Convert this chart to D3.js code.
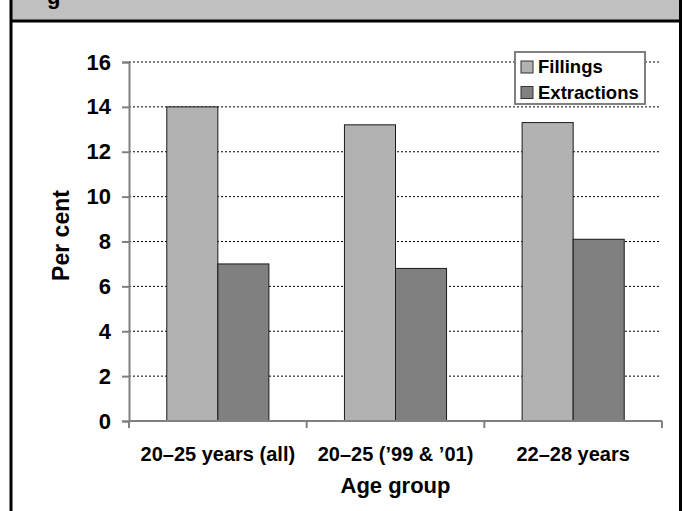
<!DOCTYPE html>
<html>
<head>
<meta charset="utf-8">
<script src="https://cdn.jsdelivr.net/npm/d3@7"></script>
<style>
  body { margin: 0; background: #fff; }
  svg { display: block; font-family: "Liberation Sans", Arial, sans-serif; font-weight: bold; }
</style>
</head>
<body>
<svg width="683" height="511"></svg>
<script>
const categories = ["20–25 years (all)", "20–25 ('99 & '01)", "22–28 years"];
const seriesNames = ["Fillings", "Extractions"];
const fillings = [14.0, 13.2, 13.3];
const extractions = [7.0, 6.8, 8.1];
const yTicks = [0, 2, 4, 6, 8, 10, 12, 14, 16];
const colors = ["#b2b2b2", "#808080"];

const svg = d3.select("svg");
const width = +svg.attr("width");
const height = +svg.attr("height");
const margin = { top: 62, right: 21, bottom: 90, left: 129 };
const innerWidth = width - margin.left - margin.right;
const innerHeight = height - margin.top - margin.bottom;

// frame + grey header band (title runs off the top, only a "g" tail shows)
svg.append("rect").attr("x", 11).attr("y", 0).attr("width", 670).attr("height", 21).attr("fill", "#c0c0c0");
svg.append("text").attr("x", 47).attr("y", 4).attr("font-size", 22).text("g");
svg.append("line").attr("x1", 11).attr("x2", 681).attr("y1", 21).attr("y2", 21)
  .attr("stroke", "#000").attr("stroke-width", 3);
svg.append("line").attr("x1", 11).attr("x2", 11).attr("y1", 0).attr("y2", height)
  .attr("stroke", "#000").attr("stroke-width", 3);
svg.append("line").attr("x1", 680.5).attr("x2", 680.5).attr("y1", 0).attr("y2", height)
  .attr("stroke", "#000").attr("stroke-width", 3);

const data = categories.map((c, i) => ({ cat: c, values: [fillings[i], extractions[i]] }));

const xScale = d3.scaleBand().domain(categories).range([0, innerWidth]).paddingInner(0).paddingOuter(0);
const xSub = d3.scaleBand().domain(seriesNames).range([0, xScale.bandwidth()]).paddingOuter(0.74).paddingInner(0);
const yScale = d3.scaleLinear().domain([0, 16]).range([innerHeight, 0]);

const g = svg.append("g").attr("transform", `translate(${margin.left}, ${margin.top})`);

// dotted gridlines
g.selectAll(".grid")
  .data(yTicks.filter((d) => d > 0))
  .enter()
  .append("line")
  .attr("x1", 0)
  .attr("x2", innerWidth - 2)
  .attr("y1", (d) => yScale(d))
  .attr("y2", (d) => yScale(d))
  .attr("stroke", "#000")
  .attr("stroke-width", 1)
  .attr("stroke-dasharray", "2,2");

// bars
const groups = g.selectAll(".grp")
  .data(data)
  .enter()
  .append("g")
  .attr("transform", (d) => `translate(${xScale(d.cat)}, 0)`);

groups.selectAll("rect")
  .data((d) => d.values.map((v, i) => ({ key: seriesNames[i], v: v, i: i })))
  .enter()
  .append("rect")
  .attr("x", (d) => xSub(d.key))
  .attr("y", (d) => yScale(d.v))
  .attr("width", xSub.bandwidth())
  .attr("height", (d) => innerHeight - yScale(d.v))
  .attr("fill", (d) => colors[d.i])
  .attr("stroke", "#1a1a1a")
  .attr("stroke-width", 1);

// y axis
const yAxis = d3.axisLeft(yScale).tickValues(yTicks).tickSize(7).tickPadding(11);
const yAxisG = g.append("g").call(yAxis);
yAxisG.select(".domain").attr("stroke", "#808080").attr("stroke-width", 2);
yAxisG.selectAll(".tick line").attr("stroke", "#808080").attr("stroke-width", 2);
yAxisG.selectAll(".tick text").attr("font-size", 22).attr("font-family", "Liberation Sans, Arial, sans-serif")
  .attr("font-weight", "bold").attr("fill", "#000");

// x axis with ticks at band edges
const xAxisG = g.append("g").attr("transform", `translate(0, ${innerHeight})`);
xAxisG.append("line").attr("x1", 0).attr("x2", innerWidth).attr("y1", 0).attr("y2", 0)
  .attr("stroke", "#808080").attr("stroke-width", 2);
const edges = categories.map((c) => xScale(c)).concat([innerWidth]);
xAxisG.selectAll(".edge")
  .data(edges)
  .enter()
  .append("line")
  .attr("x1", (d) => d).attr("x2", (d) => d)
  .attr("y1", 0).attr("y2", 7)
  .attr("stroke", "#808080").attr("stroke-width", 2);
xAxisG.selectAll(".lbl")
  .data(categories)
  .enter()
  .append("text")
  .attr("x", (d) => xScale(d) + xScale.bandwidth() / 2)
  .attr("y", 40)
  .attr("text-anchor", "middle")
  .attr("font-size", 20)
  .text((d) => d.replace(/'/g, "’"));

// axis titles
g.append("text")
  .attr("x", innerWidth / 2)
  .attr("y", innerHeight + 72)
  .attr("text-anchor", "middle")
  .attr("font-size", 22)
  .text("Age group");

g.append("text")
  .attr("transform", `translate(-60, ${innerHeight / 2 - 6}) rotate(-90)`)
  .attr("text-anchor", "middle")
  .attr("font-size", 23)
  .text("Per cent");

// legend
const legend = svg.append("g").attr("transform", "translate(515, 52)");
legend.append("rect").attr("width", 130).attr("height", 52)
  .attr("fill", "#fff").attr("stroke", "#808080").attr("stroke-width", 2);
seriesNames.forEach((name, i) => {
  legend.append("rect")
    .attr("x", 6).attr("y", 9 + i * 25.5).attr("width", 12).attr("height", 12)
    .attr("fill", colors[i]).attr("stroke", "#333").attr("stroke-width", 1);
  legend.append("text")
    .attr("x", 23).attr("y", 21 + i * 25.5)
    .attr("font-size", 18.5)
    .text(name);
});
</script>
</body>
</html>
